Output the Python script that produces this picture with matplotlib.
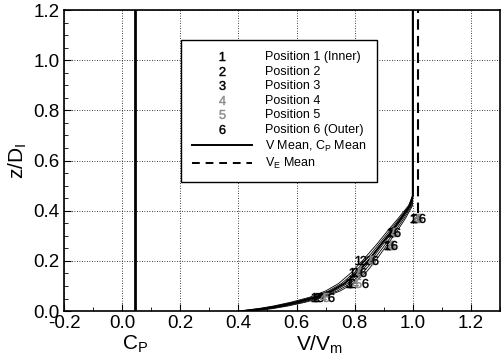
import numpy as np
import matplotlib
matplotlib.use("Agg")
import matplotlib.pyplot as plt
from matplotlib.lines import Line2D
from matplotlib.ticker import MultipleLocator

plt.rcParams['font.family'] = ['Liberation Sans', 'DejaVu Sans']
plt.rcParams['mathtext.fontset'] = 'custom'
plt.rcParams['mathtext.rm'] = 'Liberation Sans'
plt.rcParams['mathtext.it'] = 'Liberation Sans'
plt.rcParams['mathtext.bf'] = 'Liberation Sans:bold'

# position labels / colours
pos_names = ['Position 1 (Inner)', 'Position 2', 'Position 3',
             'Position 4', 'Position 5', 'Position 6 (Outer)']
pos_colors = ['black', 'black', 'black', '#8a8a8a', '#8a8a8a', 'black']

# measured points (z/D_I, V/V_m)
mz = [0.055, 0.11, 0.155, 0.205, 0.265, 0.315, 0.37]
m1 = [0.660, 0.780, 0.790, 0.810, 0.910, 0.920, 1.000]
m2 = [0.670, 0.790, 0.800, 0.830, 0.915, 0.925, 1.005]
m3 = [0.680, 0.780, 0.810, 0.850, 0.920, 0.930, 1.010]
m4 = [0.690, 0.800, 0.815, 0.855, 0.925, 0.935, 1.015]
m5 = [0.700, 0.810, 0.820, 0.860, 0.930, 0.940, 1.020]
m6 = [0.720, 0.835, 0.830, 0.870, 0.935, 0.945, 1.030]
markers = [m1, m2, m3, m4, m5, m6]

# fitted profiles per position
cz = [0.0, 0.01, 0.02, 0.035, 0.055, 0.08, 0.11, 0.155, 0.205, 0.265, 0.315, 0.37, 0.42, 0.46, 1.2]
c1 = [0.40, 0.47, 0.52, 0.58, 0.645, 0.70, 0.745, 0.79, 0.830, 0.875, 0.910, 0.950, 0.985, 1.0, 1.0]
c2 = [0.41, 0.48, 0.53, 0.59, 0.655, 0.71, 0.755, 0.80, 0.840, 0.882, 0.917, 0.955, 0.988, 1.0, 1.0]
c3 = [0.42, 0.49, 0.54, 0.60, 0.665, 0.72, 0.765, 0.81, 0.850, 0.890, 0.925, 0.960, 0.990, 1.0, 1.0]
c4 = [0.43, 0.50, 0.55, 0.61, 0.675, 0.73, 0.775, 0.82, 0.858, 0.897, 0.930, 0.965, 0.993, 1.0, 1.0]
c5 = [0.44, 0.51, 0.56, 0.62, 0.685, 0.74, 0.785, 0.83, 0.866, 0.905, 0.937, 0.970, 0.996, 1.0, 1.0]
c6 = [0.45, 0.52, 0.57, 0.63, 0.695, 0.75, 0.795, 0.84, 0.875, 0.912, 0.944, 0.975, 0.999, 1.0, 1.0]
curves = [c1, c2, c3, c4, c5, c6]

v_mean = [0.42, 0.49, 0.54, 0.60, 0.665, 0.72, 0.765, 0.81, 0.850, 0.890, 0.925, 0.960, 0.990, 1.0, 1.0]
cp_mean = 0.043
ve_mean = 1.017
ve_z = [0.39, 1.2]

fig = plt.figure(figsize=(5.02, 3.6), dpi=100)
ax = fig.add_axes([0.1275, 0.136, 0.8685, 0.836])

for c in curves:
    ax.plot(c, cz, color='black', lw=0.6)
ax.plot(v_mean, cz, color='black', lw=1.4)
ax.plot([cp_mean, cp_mean], [0, 1.2], color='black', lw=2)
ax.plot([ve_mean, ve_mean], ve_z, color='black', lw=1.5, ls=(0, (5, 3)))

for i, m in enumerate(markers):
    ax.plot(m, mz, ls='none', marker='$%d$' % (i + 1),
            color=pos_colors[i], markersize=6.5, markeredgewidth=0.3)

ax.set_xlim(-0.2, 1.3)
ax.set_ylim(0, 1.2)
ax.xaxis.set_minor_locator(MultipleLocator(0.1))
ax.yaxis.set_minor_locator(MultipleLocator(0.05))
ax.set_xticks([-0.2, 0.0, 0.2, 0.4, 0.6, 0.8, 1.0, 1.2])
ax.set_xticklabels(['-0.2', '0.0', '0.2', '0.4', '0.6', '0.8', '1.0', '1.2'])
ax.set_yticks([0.0, 0.2, 0.4, 0.6, 0.8, 1.0, 1.2])
ax.set_yticklabels(['0.0', '0.2', '0.4', '0.6', '0.8', '1.0', '1.2'])
ax.tick_params(which='both', direction='in', labelsize=13.5, pad=3)
ax.tick_params(which='major', length=5)
ax.tick_params(which='minor', length=3)
ax.grid(True, which='major', ls=(0, (1, 2)), color='black', lw=0.6)
for s in ax.spines.values():
    s.set_linewidth(1.2)

ax.set_ylabel('z/D$_I$', fontsize=15, labelpad=3)
ax.text(0.043, -0.075, 'C$_P$', transform=ax.get_xaxis_transform(),
        ha='center', va='top', fontsize=15)
ax.text(0.68, -0.075, 'V/V$_m$', transform=ax.get_xaxis_transform(),
        ha='center', va='top', fontsize=15)

handles = []
for i in range(6):
    handles.append(Line2D([], [], ls='none', marker='$%d$' % (i + 1),
                          color=pos_colors[i], markersize=6.5, markeredgewidth=0.3))
handles.append(Line2D([], [], color='black', lw=1.4))
handles.append(Line2D([], [], color='black', lw=1.4, ls=(0, (4, 3))))
labels = pos_names + ['V Mean, C$_P$ Mean', 'V$_E$ Mean']
leg = ax.legend(handles, labels, loc='upper left', bbox_to_anchor=(0.268, 0.90),
                borderaxespad=0, fontsize=9, frameon=True, fancybox=False,
                framealpha=1, edgecolor='black', handlelength=4.8,
                handletextpad=1.0, labelspacing=0.2, borderpad=0.9)
leg.get_frame().set_linewidth(1.0)

fig.savefig('out.png', dpi=100)
